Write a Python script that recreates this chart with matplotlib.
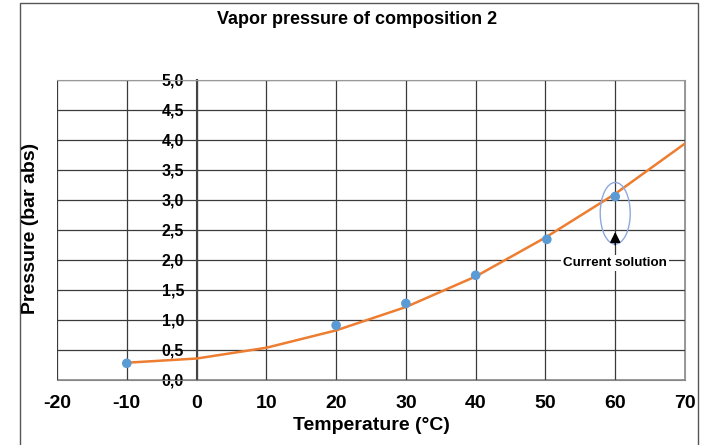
import numpy as np
import matplotlib
matplotlib.use("Agg")
import matplotlib.pyplot as plt
from matplotlib.patches import Ellipse, Rectangle
from matplotlib import font_manager

# measured points
temps = [-10, 20, 30, 40, 50.2, 60]
pressures = [0.27, 0.905, 1.27, 1.74, 2.34, 3.055]
# trend curve values read at every 10 °C
curve_temps = [-10, 0, 10, 20, 30, 40, 50, 60, 70]
curve_pressures = [0.28, 0.35, 0.53, 0.82, 1.21, 1.72, 2.37, 3.10, 3.94]

x_ticks = [-20, -10, 0, 10, 20, 30, 40, 50, 60, 70]
y_ticks = [0.0, 0.5, 1.0, 1.5, 2.0, 2.5, 3.0, 3.5, 4.0, 4.5, 5.0]
y_tick_labels = ["0,0", "0,5", "1,0", "1,5", "2,0", "2,5", "3,0", "3,5", "4,0", "4,5", "5,0"]
title = "Vapor pressure of composition 2"
xlabel = "Temperature (°C)"
ylabel = "Pressure (bar abs)"
note = "Current solution"

names = {f.name for f in font_manager.fontManager.ttflist}
fam = [n for n in ["Liberation Sans Narrow", "Liberation Sans", "DejaVu Sans"] if n in names]
plt.rcParams["font.family"] = fam
plt.rcParams["axes.unicode_minus"] = False

fig = plt.figure(figsize=(7.02, 4.45), dpi=100)
fig.patches.append(Rectangle((20/702, -0.1), (698-20)/702, 1.1 - 3/445, transform=fig.transFigure,
                             fill=False, edgecolor="#555555", linewidth=1.0))
ax = fig.add_axes([57/702, 1-379.5/445, (685-57)/702, 299.5/445])

ax.plot(curve_temps, curve_pressures, color="#ED7D31", lw=1.8, zorder=3,
        solid_joinstyle="round")
ax.scatter(temps, pressures, s=48, color="#5B9BD5", zorder=4, edgecolor="none")

ax.set_xlim(-20, 70)
ax.set_ylim(0, 5)
ax.set_xticks(x_ticks)
ax.set_yticks(y_ticks)
ax.set_yticklabels(y_tick_labels)
ax.grid(True, color="#3a3a3a", lw=0.9)
ax.set_axisbelow(True)

for s in ["top", "right"]:
    ax.spines[s].set_color("#999999")
ax.spines["left"].set_position(("data", 0))
ax.spines["left"].set_color("#444444")
ax.spines["left"].set_linewidth(1.5)
ax.spines["bottom"].set_color("#888888")
ax.add_patch(Rectangle((0, 0), 1, 1, transform=ax.transAxes, fill=False,
                       edgecolor="#999999", lw=1.2, zorder=0.5))

ax.tick_params(axis="y", length=0, pad=9, labelsize=11.5)
ax.tick_params(axis="x", length=0, pad=11, labelsize=14)
for lab in ax.get_xticklabels() + ax.get_yticklabels():
    lab.set_fontweight("bold")

fig.text(357/702, 1-20/445, title, ha="center", va="center", fontsize=13, fontweight="bold")
ax.set_xlabel(xlabel, fontsize=14, fontweight="bold", labelpad=4)
fig.text(31/702, 1-228/445, ylabel, rotation=90, ha="center", va="center",
         fontsize=14, fontweight="bold")

ax.add_patch(Ellipse((60, 2.775), 4.3, 1.03, fill=False, edgecolor="#8EA9DB", lw=1.0, zorder=5))
ax.annotate("", xy=(60, 2.51), xytext=(60, 2.2),
            arrowprops=dict(arrowstyle="-|>", color="black", lw=1.0, mutation_scale=16), zorder=6)
ax.text(60, 1.95, note, ha="center", va="center", fontsize=9.6, fontweight="bold",
        bbox=dict(facecolor="white", edgecolor="none", pad=1.5), zorder=6)

fig.savefig("out.png", dpi=100)
